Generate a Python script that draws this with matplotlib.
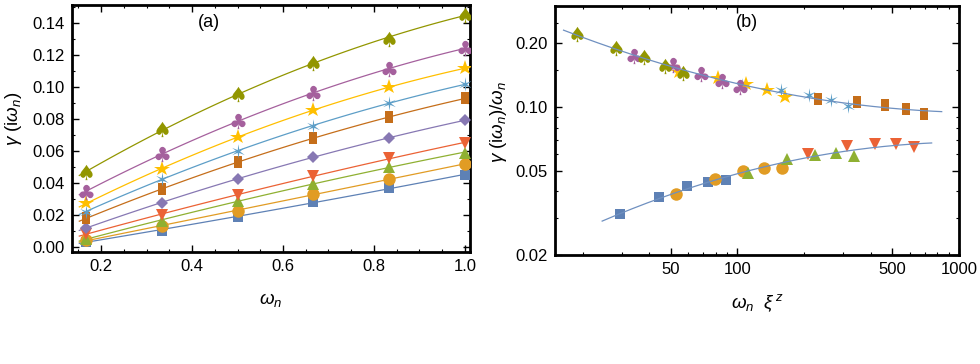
import numpy as np
import matplotlib
matplotlib.use("Agg")
import matplotlib.pyplot as plt
import matplotlib.ticker as mticker
from matplotlib.path import Path
from matplotlib.textpath import TextPath
from matplotlib.font_manager import FontProperties

plt.rcParams['font.family'] = ['Liberation Sans', 'DejaVu Sans']
plt.rcParams['mathtext.fontset'] = 'custom'
plt.rcParams['mathtext.rm'] = 'Liberation Sans'
plt.rcParams['mathtext.it'] = 'Liberation Sans:italic'

# Matsubara frequencies (left panel x)
omega = np.array([0.1667, 0.3333, 0.5, 0.6667, 0.8333, 1.0])

# gamma(i omega_n) per series, bottom to top in panel (a)
g_square = [0.0035, 0.0104, 0.0188, 0.0282, 0.0370, 0.0450]
g_circle = [0.0044, 0.0129, 0.0228, 0.0331, 0.0428, 0.0516]
g_up = [0.0054, 0.0163, 0.0285, 0.0396, 0.0503, 0.0589]
g_down = [0.0085, 0.0200, 0.0326, 0.0445, 0.0556, 0.0650]
g_diamond = [0.0121, 0.0277, 0.0423, 0.0565, 0.0683, 0.0790]
g_rect = [0.0179, 0.0363, 0.0530, 0.0679, 0.0812, 0.0927]
g_aster = [0.0221, 0.0425, 0.0602, 0.0757, 0.0897, 0.1016]
g_star = [0.0273, 0.0489, 0.0686, 0.0856, 0.0998, 0.1115]
g_club = [0.0346, 0.0583, 0.0787, 0.0959, 0.1111, 0.1242]
g_spade = [0.0467, 0.0734, 0.0952, 0.1149, 0.1300, 0.1450]

# xi^z for each series (panel b), None = not shown in (b)
xi_z = [88.5, 158.6, 336.0, 627.0, None, 693.0, 316.0, 163.6, 102.6, 56.5]
branch = ['low', 'low', 'low', 'low', None, 'up', 'up', 'up', 'up', 'up']

gammas = [g_square, g_circle, g_up, g_down, g_diamond,
          g_rect, g_aster, g_star, g_club, g_spade]
colors = ['#5E81B5', '#E19C24', '#8FB032', '#EB6235', '#8778B3',
          '#C56E1A', '#5D9EC7', '#FFBF00', '#A5609D', '#929600']


def glyph_marker(ch):
    p = TextPath((0, 0), ch, prop=FontProperties(family='DejaVu Sans'))
    e = p.get_extents()
    v = p.vertices.copy()
    v[:, 0] -= (e.x0 + e.x1) / 2
    v[:, 1] -= (e.y0 + e.y1) / 2
    v[p.codes == Path.CLOSEPOLY] = 0.0
    return Path(v, p.codes)


rect_marker = Path([(-0.32, -0.5), (0.32, -0.5), (0.32, 0.5), (-0.32, 0.5), (0.0, 0.0)],
                   [Path.MOVETO, Path.LINETO, Path.LINETO, Path.LINETO, Path.CLOSEPOLY])
ang = np.pi / 2 + np.arange(12) * np.pi / 6
rad = np.where(np.arange(12) % 2 == 0, 1.0, 0.22)
av = np.column_stack([rad * np.cos(ang), rad * np.sin(ang)])
aster_marker = Path(np.vstack([av, [[0.0, 0.0]]]), [Path.MOVETO] + [Path.LINETO] * 11 + [Path.CLOSEPOLY])

markers = ['s', 'o', '^', 'v', 'D', rect_marker, aster_marker, '*',
           glyph_marker('\u2663'), glyph_marker('\u2660')]
msizes = [6.5, 9, 8, 8, 6.2, 8, 10.5, 11.5, 11, 11]

fig = plt.figure(figsize=(9.8, 3.64), dpi=100)
ax1 = fig.add_axes([0.0735, 0.3077, 0.406, 0.6786])
ax2 = fig.add_axes([0.5663, 0.2995, 0.4122, 0.684])

# panel (a)
xfit = np.linspace(0.152, 1.0, 100)
for k in range(len(gammas)):
    c = np.polyfit(omega, gammas[k], 2)
    ax1.plot(xfit, np.polyval(c, xfit), color=colors[k], lw=0.9, zorder=2)
for k in range(len(gammas)):
    ax1.plot(omega, gammas[k], ls='none', marker=markers[k], ms=msizes[k],
             color=colors[k], mew=0, zorder=3)

ax1.set_xlim(0.136, 1.011)
ax1.set_ylim(-0.003, 0.151)
ax1.xaxis.set_major_locator(mticker.FixedLocator([0.2, 0.4, 0.6, 0.8, 1.0]))
ax1.xaxis.set_minor_locator(mticker.MultipleLocator(0.05))
ax1.yaxis.set_major_locator(mticker.MultipleLocator(0.02))
ax1.yaxis.set_minor_locator(mticker.MultipleLocator(0.01))
ax1.xaxis.set_major_formatter(mticker.FormatStrFormatter('%.1f'))
ax1.yaxis.set_major_formatter(mticker.FormatStrFormatter('%.2f'))
ax1.text(0.345, 0.93, '(a)', transform=ax1.transAxes, fontsize=13, ha='center', va='center')
ax1.set_xlabel(r'$\omega_n$', fontsize=13.5)
ax1.set_ylabel(r'$\gamma\ (\mathrm{i}\omega_n)$', fontsize=13.5)
ax1.xaxis.set_label_coords(0.5, -0.195)
ax1.yaxis.set_label_coords(-0.146, 0.54)

# panel (b)
up_x, up_y, lo_x, lo_y = [], [], [], []
for k in range(len(gammas)):
    if xi_z[k] is None:
        continue
    xs = omega[1:] * xi_z[k]
    ys = np.array(gammas[k][1:]) / omega[1:]
    ax2.plot(xs, ys, ls='none', marker=markers[k], ms=msizes[k],
             color=colors[k], mew=0, zorder=3)
    if branch[k] == 'up':
        up_x += list(xs); up_y += list(ys)
    else:
        lo_x += list(xs); lo_y += list(ys)

for bx, by, x0, x1 in [(up_x, up_y, 16.4, 836), (lo_x, lo_y, 24.5, 753)]:
    c = np.polyfit(np.log(bx), np.log(by), 2)
    xf = np.geomspace(x0, x1, 200)
    ax2.plot(xf, np.exp(np.polyval(c, np.log(xf))), color='#6F90C0', lw=0.9, zorder=4)

ax2.set_xscale('log')
ax2.set_yscale('log')
ax2.set_xlim(15, 1000)
ax2.set_ylim(0.02, 0.30)
ax2.xaxis.set_major_locator(mticker.FixedLocator([50, 100, 500, 1000]))
ax2.xaxis.set_minor_locator(mticker.FixedLocator([20, 30, 40, 60, 70, 80, 90, 200, 300, 400,
                                                  600, 700, 800, 900]))
ax2.xaxis.set_major_formatter(mticker.FixedFormatter(['50', '100', '500', '1000']))
ax2.xaxis.set_minor_formatter(mticker.NullFormatter())
ax2.yaxis.set_major_locator(mticker.FixedLocator([0.02, 0.05, 0.1, 0.2]))
ax2.yaxis.set_minor_locator(mticker.FixedLocator([0.03, 0.04, 0.06, 0.07, 0.08, 0.09, 0.15, 0.25, 0.3]))
ax2.yaxis.set_major_formatter(mticker.FixedFormatter(['0.02', '0.05', '0.10', '0.20']))
ax2.yaxis.set_minor_formatter(mticker.NullFormatter())
ax2.text(0.475, 0.935, '(b)', transform=ax2.transAxes, fontsize=13, ha='center', va='center')
ax2.set_xlabel(r'$\omega_n\ \ \xi^{\,z}$', fontsize=13.5)
ax2.set_ylabel(r'$\gamma\ (\mathrm{i}\omega_n)/\omega_n$', fontsize=13.5)
ax2.xaxis.set_label_coords(0.5, -0.195)
ax2.yaxis.set_label_coords(-0.141, 0.534)

for ax in (ax1, ax2):
    for s in ax.spines.values():
        s.set_linewidth(2)
    ax.tick_params(which='both', direction='in', top=True, right=True, labelsize=12)
    ax.tick_params(which='major', length=5, width=1, pad=5)
    ax.tick_params(which='minor', length=2.5, width=0.8)
    ax.xaxis.label.set_va('center')
    ax.yaxis.label.set_va('center')

fig.savefig('out.png', dpi=100)
